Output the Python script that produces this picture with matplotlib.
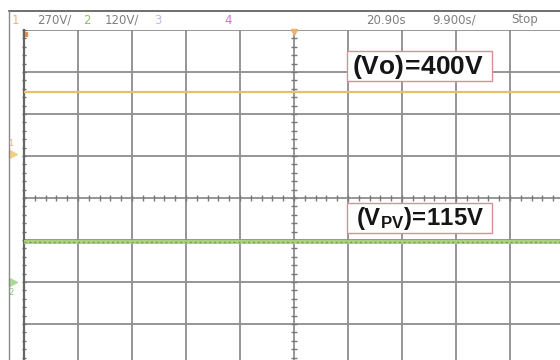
"""Scope capture: output voltage (CH1) and PV input voltage (CH2), steady state."""

import matplotlib

matplotlib.use("Agg")

import matplotlib.pyplot as plt
import numpy as np
from matplotlib.lines import Line2D
from matplotlib.patches import Rectangle

plt.rcParams["mathtext.fontset"] = "custom"
plt.rcParams["mathtext.bf"] = "Liberation Sans:bold"
plt.rcParams["mathtext.rm"] = "Liberation Sans"

# acquisition settings shown in the header
CH_SCALE_V = [270.0, 120.0]          # volts per division, CH1 / CH2
CH_OFFSET_DIV = [1.05, -2.0]         # ground marker positions (divisions)
TIME_PER_DIV = 9.9                   # seconds per division
header_left = [("1", "#f2b27a"), ("270V/", "#808080"), ("2", "#8cc060"),
               ("120V/", "#808080"), ("3", "#b0c0d8"), ("4", "#c878c8")]
header_right = ["20.90s", "9.900s/", "Stop"]

# traces
time_s = [0.0, 99.0]
vo_volts = [400.0, 400.0]
vpv_volts = [115.0, 115.0]

N_XDIV, N_YDIV = 10, 8
GRID = "#8e8e8e"

fig = plt.figure(figsize=(5.6, 3.6), dpi=100)
ax = fig.add_axes([24 / 560, -6 / 360, 540 / 560, 336 / 360])
ax.set_xlim(0, N_XDIV)
ax.set_ylim(-N_YDIV / 2, N_YDIV / 2)
ax.set_xticks(np.arange(N_XDIV + 1))
ax.set_yticks(np.arange(-N_YDIV / 2, N_YDIV / 2 + 1))
ax.tick_params(length=0, labelbottom=False, labelleft=False)
ax.grid(True, color=GRID, lw=1.3)
ax.set_axisbelow(True)
for side in ("top", "right", "bottom"):
    ax.spines[side].set_visible(False)
ax.spines["left"].set_color("#666666")
ax.spines["left"].set_linewidth(1.6)

# sub-division ticks on the centre cross and along the left edge
sub = np.arange(0, N_XDIV + 0.01, 0.2)
ax.plot(sub, np.zeros_like(sub), ls="none", marker="|", ms=4, mew=1.0, color="#777777")
sub_y = np.arange(-N_YDIV / 2, N_YDIV / 2 + 0.01, 0.2)
ax.plot(np.full_like(sub_y, N_XDIV / 2), sub_y, ls="none", marker="_", ms=4, mew=1.0, color="#777777")
ax.plot(np.zeros_like(sub_y), sub_y, ls="none", marker="_", ms=2.5, mew=0.9, color="#666666",
        clip_on=False)

# traces, converted to screen divisions
t_div = np.asarray(time_s) / TIME_PER_DIV
ch1 = np.asarray(vo_volts) / CH_SCALE_V[0] + CH_OFFSET_DIV[0]
ch2 = np.asarray(vpv_volts) / CH_SCALE_V[1] + CH_OFFSET_DIV[1]
ax.plot(t_div, ch1, color="#e8c068", lw=1.6, zorder=3)
ax.plot(t_div, ch2, color="#acd27c", lw=2.8, zorder=3)
ax.plot(t_div, ch2, color="#5f8f3a", lw=1.0, ls=(0, (1.5, 2.0)), alpha=0.75, zorder=3)

# channel ground markers and trigger markers
ax.plot([-0.2], [CH_OFFSET_DIV[0]], marker=">", ms=6, color="#f0c878", alpha=0.85, clip_on=False)
ax.text(-0.24, CH_OFFSET_DIV[0] + 0.25, "1", color="#e8b868", fontsize=6, ha="center",
        va="center", clip_on=False)
ax.plot([-0.2], [CH_OFFSET_DIV[1]], marker=">", ms=6, color="#a0d488", alpha=0.85, clip_on=False)
ax.text(-0.24, CH_OFFSET_DIV[1] - 0.25, "2", color="#88c878", fontsize=6, ha="center",
        va="center", clip_on=False)
ax.plot([N_XDIV / 2], [N_YDIV / 2 - 0.05], marker="v", ms=5, color="#f0b070", clip_on=False)
ax.plot([0.02], [N_YDIV / 2 - 0.1], marker="s", ms=2.5, color="#e09050", clip_on=False)

# value callouts
for x0, y0 in [(5.98, 2.79), (5.98, -0.83)]:
    ax.add_patch(Rectangle((x0, y0), 2.68, 0.71, fc="white", ec="#d89098", lw=1.0, zorder=5))
ax.text(7.30, 3.13, r"$\mathbf{(Vo)\!=\!400V}$", fontsize=19, ha="center", va="center",
        color="#151515", zorder=6)
ax.text(7.33, -0.48, r"$\mathbf{(V_{PV})\!=\!115V}$", fontsize=17.2, ha="center", va="center",
        color="#151515", zorder=6)

# header strip
fig.add_artist(Line2D([9 / 560, 1], [349 / 360, 349 / 360], color="#555555", lw=1.2,
                      transform=fig.transFigure))
fig.add_artist(Line2D([9 / 560, 9 / 560], [0, 349 / 360], color="#8a8a8a", lw=1.0,
                      transform=fig.transFigure))
hdr_font = dict(fontsize=8.5, family=["Liberation Sans Narrow", "DejaVu Sans"], va="center")
left_x = [15, 37, 87, 105, 158, 228]
for (txt, col), px in zip(header_left, left_x):
    fig.text(px / 560, 340 / 360, txt, color=col, ha="left" if len(txt) > 1 else "center",
             **hdr_font)
for txt, px in zip(header_right, [366, 432, 511]):
    fig.text(px / 560, 340 / 360, txt, color="#808080", ha="left", **hdr_font)

fig.savefig("out.png", dpi=100)
